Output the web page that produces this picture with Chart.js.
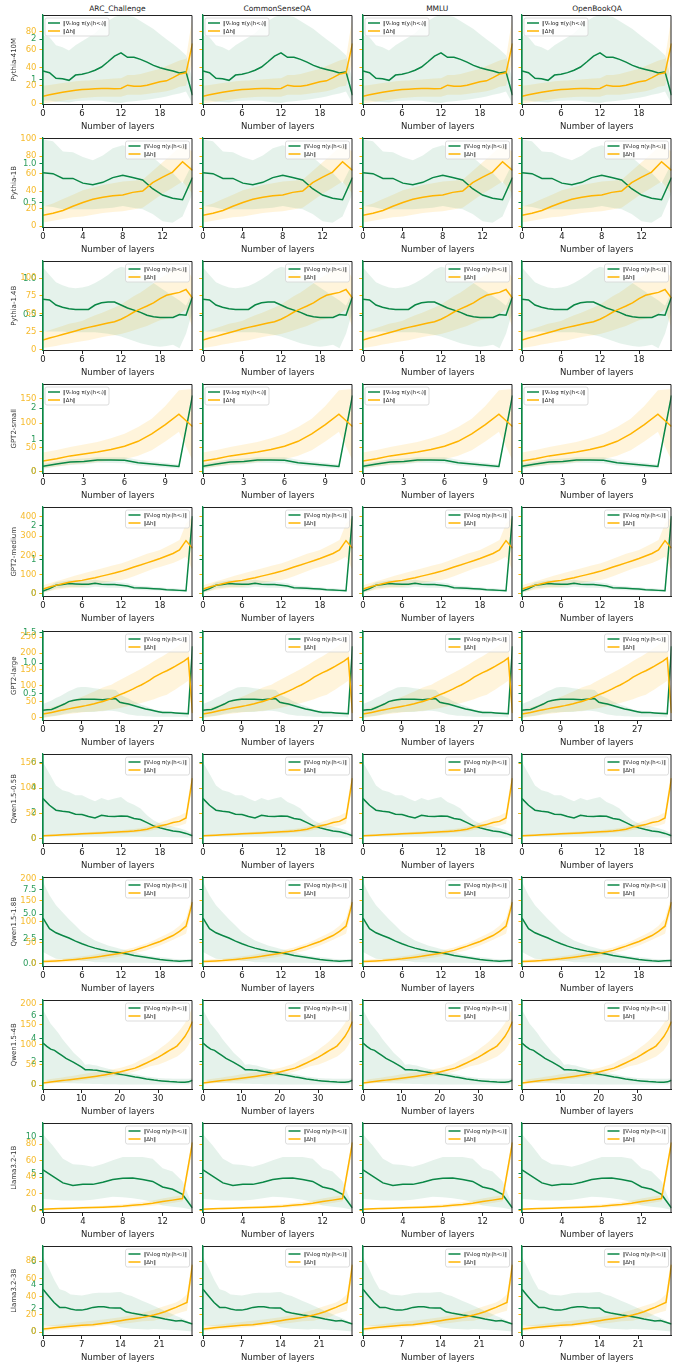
<!DOCTYPE html>
<html>
<head>
<meta charset="utf-8">
<script src="https://cdn.jsdelivr.net/npm/chart.js@4.4.0/dist/chart.umd.min.js"></script>
<style>
  body { margin: 0; background: #fff; width: 677px; height: 1367px; position: relative; overflow: hidden; font-family: "DejaVu Sans", sans-serif; }
  canvas { position: absolute; }
  .ttl { position: absolute; width: 150px; text-align: center; font-size: 7.5px; color: #222; }
</style>
</head>
<body>
<script>
// colonnes (tâches) et lignes (modèles)
const tasks = ['ARC_Challenge', 'CommonSenseQA', 'MMLU', 'OpenBookQA'];
const models = ['Pythia-410M', 'Pythia-1B', 'Pythia-1.4B', 'GPT2-small', 'GPT2-medium', 'GPT2-large',
  'Qwen1.5-0.5B', 'Qwen1.5-1.8B', 'Qwen1.5-4B', 'Llama3.2-1B', 'Llama3.2-3B'];
const xSteps = [6, 4, 6, 3, 6, 9, 6, 6, 10, 4, 7];

// Pythia-410M
const p410Grad = [1.21,1.17,1.03,1.02,0.98,1.11,1.13,1.17,1.23,1.31,1.44,1.58,1.66,1.55,1.55,1.50,1.43,1.35,1.29,1.25,1.21,1.16,1.19,0.61];
const p410GradHi = [2.1,2.05,1.85,1.8,1.72,1.85,1.95,2.05,2.15,2.3,2.45,2.55,2.6,2.58,2.55,2.45,2.35,2.25,2.12,2.0,1.88,1.75,1.6,1.0];
const p410GradLo = [0.48,0.48,0.45,0.44,0.43,0.46,0.47,0.48,0.48,0.47,0.45,0.43,0.42,0.45,0.46,0.48,0.5,0.52,0.55,0.58,0.62,0.65,0.7,0.4];
const p410Dh = [8.5,10,11.5,12.8,14,15,16,16.3,16.7,17,17,16.8,17,20.7,19.6,19.6,20.7,22.6,24.4,25.5,29,33,34.4,67];
const p410DhHi = [20,21,22,23,24,25,25.5,26,26.5,27,27.5,28,28.5,32,32,33,35,37,39,42,45,48,50,97];
const p410DhLo = [0.5,1.5,2.5,3.5,4.5,5.5,6.5,7,7.5,8,8,8,8,10,10,10,11,12,13,14,16,19,20,45];

// Pythia-1B
const p1bGrad = [0.88,0.87,0.81,0.81,0.75,0.73,0.76,0.82,0.85,0.82,0.79,0.68,0.60,0.56,0.54,0.82];
const p1bGradHi = [1.30,1.28,1.15,1.14,1.08,1.04,1.10,1.19,1.23,1.19,1.17,1.08,0.97,0.88,0.75,1.0];
const p1bGradLo = [0.46,0.45,0.42,0.42,0.42,0.42,0.43,0.44,0.46,0.44,0.42,0.36,0.27,0.25,0.33,0.62];
const p1bDh = [12.4,14.7,17.9,22.7,27,30.7,33,34.7,35.5,38.6,40.2,49.8,56,61.8,73.7,63.7];
const p1bDhHi = [22,26,31,36,41,44,47,49,51,52,53,63,73,83,93,85];
const p1bDhLo = [4,6,8,10,11,13,15,16,17,19,21,29,37,44,51,37];

// Pythia-1.4B
const p14bGrad = [0.72,0.71,0.64,0.61,0.59,0.58,0.58,0.58,0.64,0.67,0.68,0.68,0.64,0.60,0.57,0.54,0.50,0.48,0.47,0.47,0.47,0.51,0.50,0.75];
const p14bGradHi = [1.15,1.05,0.95,0.91,0.88,0.87,0.88,0.90,0.94,0.99,1.05,1.12,1.16,1.14,1.10,1.05,0.99,0.94,0.88,0.82,0.76,0.70,0.63,0.82];
const p14bGradLo = [0.28,0.28,0.28,0.28,0.27,0.27,0.27,0.27,0.27,0.26,0.25,0.23,0.21,0.18,0.15,0.12,0.1,0.08,0.07,0.08,0.1,0.05,0.25,0.55];
const p14bDh = [13.4,16,18.4,21,23.5,26,28.6,31,33,35,37,39,42.4,47,52.5,57,61,65.4,71.4,76,78,80,84,72];
const p14bDhHi = [24,27,30,33,36,38,40,44,48,51,55,59,63,69,75,80,86,93,100,105,111,113,114,100];
const p14bDhLo = [2,3.5,5,7,8.5,10,11.5,13,15,17,19,20,21.7,24,27,30,33,37,41,43,45,50,56,31];

// GPT2-small
const g2sGrad = [0.18,0.25,0.31,0.33,0.375,0.37,0.365,0.29,0.25,0.21,0.17,2.4];
const g2sGradHi = [0.26,0.33,0.4,0.42,0.46,0.46,0.46,0.38,0.33,0.28,0.23,2.45];
const g2sGradLo = [0.1,0.17,0.22,0.24,0.29,0.28,0.27,0.2,0.17,0.14,0.11,2.35];
const g2sDh = [22.4,27,32.7,36.7,40.8,46,52.4,62.6,77.6,96.6,118,93];
const g2sDhHi = [39.5,45,51,56,61,69,78,92,109,135,167,170];
const g2sDhLo = [8,11,15,17,20,23,26,33,44,62,82,24];

// GPT2-medium
const g2mGrad = [0.08,0.15,0.25,0.27,0.3,0.29,0.28,0.28,0.31,0.28,0.27,0.27,0.25,0.23,0.18,0.17,0.16,0.15,0.14,0.12,0.11,0.1,0.09,2.28];
const g2mGradHi = [0.14,0.23,0.34,0.37,0.4,0.4,0.39,0.39,0.41,0.38,0.37,0.36,0.33,0.31,0.25,0.23,0.22,0.2,0.19,0.17,0.16,0.15,0.13,2.3];
const g2mGradLo = [0.03,0.08,0.16,0.18,0.2,0.19,0.18,0.18,0.21,0.19,0.18,0.18,0.17,0.16,0.12,0.11,0.1,0.1,0.09,0.08,0.07,0.06,0.05,2.26];
const g2mDh = [24.6,35,44,52,60,65,70,77,84,92,100,108,117,128,140,150,161,172,184,197,210,228,277,237];
const g2mDhHi = [44,55,65,75,85,95,105,114,123,132,141,150,158,170,182,195,208,218,228,245,262,280,365,400];
const g2mDhLo = [9,15,21,26,30,33,35,42,48,55,62,67,70,80,92,105,118,130,140,150,160,175,193,123];

// GPT2-large
const g2lGrad = [0.23,0.235,0.24,0.27,0.3,0.33,0.37,0.39,0.4,0.41,0.41,0.41,0.41,0.405,0.4,0.41,0.415,0.42,0.36,0.345,0.33,0.31,0.29,0.27,0.25,0.235,0.22,0.205,0.19,0.19,0.19,0.185,0.18,0.175,0.17,1.28];
const g2lGradHi = [0.33,0.36,0.39,0.43,0.46,0.5,0.54,0.57,0.6,0.61,0.61,0.6,0.59,0.58,0.57,0.57,0.57,0.56,0.49,0.45,0.42,0.38,0.35,0.32,0.3,0.27,0.24,0.23,0.22,0.21,0.2,0.2,0.2,0.2,0.2,1.3];
const g2lGradLo = [0.11,0.12,0.13,0.14,0.15,0.17,0.18,0.19,0.19,0.2,0.2,0.2,0.2,0.21,0.21,0.22,0.22,0.21,0.2,0.18,0.16,0.15,0.14,0.14,0.13,0.13,0.12,0.12,0.12,0.12,0.12,0.12,0.12,0.12,0.11,1.26];
const g2lDh = [12,14.5,17,20,23,25.5,28,30.5,33,35.5,38,41,44,47.5,51,55.5,60,66,72,77,83,89,96,102,109,117,126,133,140,146,153,160,168,176,186,15];
const g2lDhHi = [26,29,33,37,42,47,52,56,60,65,70,76,82,88,94,99,103,110,117,124,131,138,145,152,160,168,176,184,191,199,208,217,226,235,243,60];
const g2lDhLo = [0,2,4,6,8,10,12,14,15.5,17,18,19,20,21,22,24,26,28,31,34,37,40,43,46,50,54,58,63,68,72,80,88,97,106,115,2];

// Qwen1.5-0.5B
const q05Grad = [3.16,2.63,2.24,2.16,2.1,1.92,1.9,1.74,1.63,1.84,1.76,1.74,1.79,1.76,1.58,1.5,1.26,1.0,0.84,0.71,0.6,0.53,0.4,0.21];
const q05GradHi = [6.05,5.13,4.2,3.82,3.68,3.42,3.42,3.16,2.95,3.2,3.03,3.16,3.29,2.9,2.68,2.37,1.84,1.45,1.18,1.05,0.92,0.8,0.66,0.4];
const q05GradLo = [0.15,0.14,0.14,0.13,0.13,0.13,0.13,0.13,0.13,0.13,0.13,0.13,0.13,0.13,0.13,0.13,0.12,0.12,0.12,0.11,0.1,0.09,0.08,0.05];
const q05Dh = [5.3,6,6.6,7.2,7.9,8.5,9.2,9.8,10.5,11.1,11.8,12.5,13.2,14,15,16.5,18.4,22.4,25,27.6,31.6,34,40.8,120];
const q05DhHi = [7,7.8,8.6,9.4,10.2,11,11.8,12.6,13.4,14.2,15,15.8,16.6,17.6,19,21,23.5,28,32,36,41,45,52,138];
const q05DhLo = [3.6,4.2,4.7,5.2,5.7,6.2,6.8,7.3,7.8,8.3,8.8,9.3,9.8,10.5,11.3,12.5,14,17,19,21,23.5,25.5,30,105];

// Qwen1.5-1.8B
const q18Grad = [4.6,3.54,3.13,2.86,2.6,2.29,2.02,1.78,1.58,1.41,1.28,1.18,1.08,0.98,0.84,0.74,0.64,0.54,0.44,0.37,0.3,0.27,0.3,0.34];
const q18GradHi = [8.25,6.9,5.9,5.2,4.5,3.85,3.2,2.75,2.36,2.1,1.85,1.67,1.5,1.35,1.18,1.0,0.84,0.74,0.67,0.6,0.5,0.45,0.45,0.44];
const q18GradLo = [1.18,0.84,0.5,0.45,0.4,0.35,0.3,0.25,0.17,0.15,0.14,0.13,0.12,0.11,0.1,0.1,0.1,0.09,0.09,0.08,0.08,0.07,0.07,0.07];
const q18Dh = [5.5,6.3,7.2,8,9.3,10.6,12,14,16,18,20.5,22.7,25,28.5,32,37,42,47.5,53,60,67,77,89,146];
const q18DhHi = [9.5,10.5,11.5,12.5,14,16,18,20,22.5,25,27.5,29.5,31.6,35,39,44,49,55.5,63,70,78,90,107,162];
const q18DhLo = [1.6,2.3,3,3.7,4.5,5.5,6.5,8,9.5,11,13.5,15.5,18,21,24.5,28.5,32.5,38,43.5,50,57,64,71,130];

// Qwen1.5-4B
const q4Grad = [3.63,3.34,3.11,3.0,2.77,2.54,2.31,2.14,1.97,1.77,1.57,1.34,1.34,1.31,1.29,1.23,1.17,1.11,1.06,1.0,0.94,0.89,0.83,0.77,0.71,0.66,0.6,0.54,0.49,0.44,0.4,0.37,0.34,0.31,0.29,0.27,0.26,0.26,0.29,0.43];
const q4GradHi = [6.5,5.9,5.3,4.9,4.5,4.0,3.6,3.2,2.8,2.5,2.2,1.77,1.8,1.75,1.69,1.6,1.5,1.42,1.34,1.27,1.2,1.13,1.06,1.0,0.94,0.88,0.8,0.76,0.7,0.66,0.63,0.6,0.58,0.57,0.56,0.55,0.55,0.55,0.56,0.6];
const q4GradLo = [0.49,0.4,0.26,0.22,0.2,0.19,0.18,0.17,0.16,0.15,0.14,0.13,0.12,0.11,0.1,0.1,0.09,0.09,0.08,0.08,0.06,0.06,0.06,0.06,0.06,0.06,0.06,0.06,0.06,0.06,0.06,0.06,0.06,0.06,0.06,0.06,0.06,0.06,0.06,0.2];
const q4Dh = [5.7,6.8,8,9.1,10.2,11.4,12.5,13.6,14.7,15.9,17,18.3,19.6,21,22.3,23.7,25.4,27.2,29,30.8,32.7,35,37.3,39.6,42,46,50.4,54.7,59.3,64,68.6,74,80,86,91,97,108,120,136,157];
const q4DhHi = [12.2,13.6,15,16.4,17.8,19.2,20.6,22,23.4,25,27,28.5,30,31.5,33,34.5,36,37.5,39,40.7,42.4,45,48,51,55,60,64.5,69,74,80,87,94,101,109,118,128,140,153,170,193];
const q4DhLo = [1.6,2.5,3.5,4.5,5.5,6.5,7.5,8.5,9.5,10.5,11.5,12.7,13.9,15,16.3,17.5,18.8,20.2,21.5,22.6,23.7,26,28.5,31,34,37,40,43,46.5,48.5,50.6,54,58,62,66.5,71,78,86,100,120];

// Llama3.2-1B
const l1Grad = [5.5,4.6,3.7,3.36,3.5,3.5,3.8,4.16,4.34,4.38,4.16,3.9,3.14,2.83,2.12,0.27];
const l1GradHi = [10.35,8.8,7.0,6.24,6.15,5.9,6.3,6.8,7.26,7.26,7.26,7.0,5.7,5.27,3.94,0.6];
const l1GradLo = [1.5,1.4,1.3,1.28,1.28,1.4,1.6,1.81,1.75,1.6,1.4,1.1,0.62,0.45,0.3,0.04];
const l1Dh = [0.8,1.4,2,2.3,2.7,3.1,3.5,4.1,4.7,5.7,6.7,8.2,10.2,12,14,82];
const l1DhHi = [2,2.6,3.3,3.7,4.2,4.7,5.3,6,7,8.3,9.7,11.5,14,16,18,90];
const l1DhLo = [0,0.4,0.9,1.1,1.4,1.7,2,2.4,2.8,3.4,4.2,5.3,6.8,8.5,10.5,70];

// Llama3.2-3B
const l3Grad = [3.63,3.07,2.51,2.1,2.1,1.96,1.87,1.87,1.96,2.1,2.15,2.15,2.07,2.04,2.04,1.73,1.62,1.54,1.45,1.4,1.31,1.23,1.12,1.03,0.95,0.98,0.84,0.7];
const l3GradHi = [6.4,5.45,4.47,3.63,3.49,3.2,3.15,3.1,3.2,3.3,3.35,3.35,3.35,3.38,3.4,3.2,3.07,2.85,2.65,2.45,2.23,2.02,1.82,1.6,1.4,1.2,0.98,0.56];
const l3GradLo = [0.56,0.53,0.5,0.5,0.5,0.55,0.6,0.62,0.62,0.63,0.65,0.68,0.7,0.6,0.42,0.35,0.3,0.27,0.25,0.23,0.28,0.25,0.22,0.2,0.18,0.15,0.1,0.06];
const l3Dh = [3.7,4.3,5,5.6,6.2,6.8,7.4,7.8,8.1,8.5,9.3,10.2,11,12,13,14,14.9,15.8,16.7,18,19.3,21,23,25.5,28,30.7,33.5,76];
const l3DhHi = [6.7,7.4,8.1,8.8,9.5,10.2,10.9,11.6,12.3,13,13.7,14.4,15.1,15.9,16.7,18,19.3,20.6,22,23.6,25.3,27.5,29.5,31.5,33.5,37,42.7,85.5];
const l3DhLo = [1.5,2,2.5,3,3.5,4,4.5,5,5.5,6,6.6,7.3,8,8.6,9.3,10,10.7,11.5,12.2,12.7,13,14.5,16,17.5,20.4,22.5,24.2,67];

// graduations des deux axes y
const gradTicks = [[1,2],[0.5,1],[0.5,1],[0,1,2],[0,1,2],[0.5,1,1.5],[0,2,4,6],[0,2.5,5,7.5],[0,2,4,6],[0,5,10],[0,2,4,6]];
const gradDecimals = [0,1,1,0,0,1,0,1,0,0,0];
const dhTicks = [[0,20,40,60,80],[0,20,40,60,80,100],[0,25,50,75,100],[0,50,100,150],[0,100,200,300,400],
  [0,50,100,150,200,250],[0,50,100,150],[0,50,100,150,200],[0,50,100,150,200],[0,20,40,60,80],[0,20,40,60,80]];
const gradRange = [[0.38,2.6],[0.19,1.32],[0.02,1.24],[-0.05,2.76],[-0.08,2.55],[0.06,1.53],[-0.4,6.7],[-0.27,8.75],[-0.37,7.34],[-0.35,11.9],[-0.28,7.3]];
const dhRange = [[-0.7,98.5],[-1.6,100.8],[-1.4,124],[-3.4,180],[-14,452],[-8,269],[-10,168],[-6,205],[-10.6,210],[-3,105.5],[-3.7,97]];
const legendRight = [false,true,true,false,true,true,true,true,true,true,true];

const rows = [
  [p410Grad, p410GradHi, p410GradLo, p410Dh, p410DhHi, p410DhLo],
  [p1bGrad, p1bGradHi, p1bGradLo, p1bDh, p1bDhHi, p1bDhLo],
  [p14bGrad, p14bGradHi, p14bGradLo, p14bDh, p14bDhHi, p14bDhLo],
  [g2sGrad, g2sGradHi, g2sGradLo, g2sDh, g2sDhHi, g2sDhLo],
  [g2mGrad, g2mGradHi, g2mGradLo, g2mDh, g2mDhHi, g2mDhLo],
  [g2lGrad, g2lGradHi, g2lGradLo, g2lDh, g2lDhHi, g2lDhLo],
  [q05Grad, q05GradHi, q05GradLo, q05Dh, q05DhHi, q05DhLo],
  [q18Grad, q18GradHi, q18GradLo, q18Dh, q18DhHi, q18DhLo],
  [q4Grad, q4GradHi, q4GradLo, q4Dh, q4DhHi, q4DhLo],
  [l1Grad, l1GradHi, l1GradLo, l1Dh, l1DhHi, l1DhLo],
  [l3Grad, l3GradHi, l3GradLo, l3Dh, l3DhHi, l3DhLo]
];

const GREEN = '#0a8746';
const ORANGE = '#ffb400';
const GREEN_TXT = '#2c9c5c';
const ORANGE_TXT = '#f6bb2e';
const GREEN_BAND = 'rgba(20,140,70,0.11)';
const ORANGE_BAND = 'rgba(255,185,30,0.16)';
const gradLabel = '‖∇ₕlog π(yᵢ|h<ᵢ)‖';
const dhLabel = '‖Δh‖';

// géométrie des panneaux
const colLeft = [42.7, 202.5, 362.5, 522.3];
const plotW = 149.5, plotH = 89.5;
const rowTop = r => 15 + 123.1 * r;

Chart.defaults.font.family = '"DejaVu Sans", sans-serif';

// l'axe orange partage la boîte de l'axe vert (libellés superposés, comme l'original)
const stickAxis = {
  id: 'stickAxis',
  afterLayout(chart) {
    const s = chart.scales.y2;
    s.left = chart.scales.y.left;
    s.right = chart.chartArea.left;
    s.width = s.right - s.left;
  }
};

// cadre noir + axe gauche vert
const frame = {
  id: 'frame',
  afterDatasetsDraw(chart) {
    const { ctx, chartArea: a } = chart;
    ctx.save();
    ctx.strokeStyle = '#222';
    ctx.lineWidth = 1;
    ctx.beginPath();
    ctx.moveTo(a.left, a.top + 0.5); ctx.lineTo(a.right - 0.5, a.top + 0.5); ctx.lineTo(a.right - 0.5, a.bottom);
    ctx.stroke();
    ctx.strokeStyle = GREEN;
    ctx.lineWidth = 1.2;
    ctx.beginPath(); ctx.moveTo(a.left, a.top); ctx.lineTo(a.left, a.bottom); ctx.stroke();
    ctx.restore();
  }
};

// petite légende dans la zone du graphique
const miniLegend = {
  id: 'miniLegend',
  afterDraw(chart, args, opts) {
    const { ctx, chartArea: a } = chart;
    const w = 64, h = 18;
    const x = opts.right ? a.right - w - 3 : a.left + 2;
    const y = a.top + 3;
    ctx.save();
    ctx.fillStyle = 'rgba(255,255,255,0.8)';
    ctx.strokeStyle = '#d4d4d4';
    ctx.lineWidth = 0.8;
    ctx.beginPath();
    ctx.roundRect(x, y, w, h, 2);
    ctx.fill(); ctx.stroke();
    [[GREEN, gradLabel], [ORANGE, dhLabel]].forEach(([col, txt], i) => {
      const yy = y + 5 + i * 8;
      ctx.strokeStyle = col; ctx.lineWidth = 1.5;
      ctx.beginPath(); ctx.moveTo(x + 3, yy); ctx.lineTo(x + 15, yy); ctx.stroke();
      ctx.fillStyle = '#222';
      ctx.font = '5.4px "DejaVu Sans"';
      ctx.textBaseline = 'middle';
      ctx.fillText(txt, x + 18, yy + 0.3);
    });
    ctx.restore();
  }
};

function bandSet(data, axis, color, fill) {
  return { data, yAxisID: axis, borderColor: 'transparent', borderWidth: 0, pointRadius: 0,
    backgroundColor: color, fill: fill, order: 5 };
}

function makePanel(r, c) {
  const cv = document.createElement('canvas');
  cv.width = 196; cv.height = 135;
  cv.style.left = (colLeft[c] - 43) + 'px';
  cv.style.top = (rowTop(r) - 15) + 'px';
  document.body.appendChild(cv);

  const [grad, gradHi, gradLo, dh, dhHi, dhLo] = rows[r];
  const n = grad.length;
  const labels = grad.map((_, i) => i);

  new Chart(cv.getContext('2d'), {
    type: 'line',
    data: {
      labels: labels,
      datasets: [
        { label: gradLabel, data: grad, yAxisID: 'y', borderColor: GREEN, borderWidth: 1.5, pointRadius: 0, fill: false, order: 1 },
        { label: dhLabel, data: dh, yAxisID: 'y2', borderColor: ORANGE, borderWidth: 1.5, pointRadius: 0, fill: false, order: 0 },
        bandSet(gradHi, 'y', GREEN_BAND, '+1'),
        bandSet(gradLo, 'y', GREEN_BAND, false),
        bandSet(dhHi, 'y2', ORANGE_BAND, '+1'),
        bandSet(dhLo, 'y2', ORANGE_BAND, false)
      ]
    },
    options: {
      responsive: false,
      animation: false,
      devicePixelRatio: 1,
      layout: { padding: { top: 15, right: 196 - 43 - plotW, bottom: 0, left: 0 } },
      plugins: { legend: { display: false }, tooltip: { enabled: false }, miniLegend: { right: legendRight[r] } },
      scales: {
        x: {
          type: 'linear', min: 0, max: n - 1,
          afterBuildTicks: s => {
            const t = [];
            for (let v = 0; v <= n - 1; v += xSteps[r]) t.push({ value: v });
            s.ticks = t;
          },
          ticks: { font: { size: 8.5 }, color: '#222', padding: 1, maxRotation: 0, autoSkip: false },
          grid: { drawOnChartArea: false, tickLength: 3.5, color: '#222' },
          border: { color: '#222', width: 1 },
          title: { display: true, text: 'Number of layers', font: { size: 8.5 }, color: '#222', padding: { top: 0, bottom: 3.4 } },
          afterFit: s => { s.height = 135 - 15 - plotH; }
        },
        y: {
          position: 'left', weight: 1,
          min: gradRange[r][0], max: gradRange[r][1],
          afterBuildTicks: s => { s.ticks = gradTicks[r].map(v => ({ value: v })); },
          ticks: { display: c === 0, color: GREEN_TXT, font: { size: 8.5 }, padding: 3,
            callback: v => v.toFixed(gradDecimals[r]) },
          grid: { drawOnChartArea: false, tickLength: 3.5, color: GREEN },
          border: { color: GREEN, width: 1.2 },
          title: { display: c === 0, text: models[r], font: { size: 7 }, color: '#333', padding: { top: 10, bottom: 0 } },
          afterFit: s => { s.width = 43; }
        },
        y2: {
          position: 'left', weight: 0,
          min: dhRange[r][0], max: dhRange[r][1],
          afterBuildTicks: s => { s.ticks = dhTicks[r].map(v => ({ value: v })); },
          ticks: { display: c === 0, color: ORANGE_TXT, font: { size: 8.5 }, padding: 3 },
          grid: { drawOnChartArea: false, tickLength: 3.5, color: ORANGE },
          border: { display: false },
          afterFit: s => { s.width = 0; }
        }
      }
    },
    plugins: [stickAxis, frame, miniLegend]
  });
}

// titres des colonnes
tasks.forEach((t, c) => {
  const d = document.createElement('div');
  d.className = 'ttl';
  d.textContent = t;
  d.style.left = (colLeft[c] + plotW / 2 - 75) + 'px';
  d.style.top = '4px';
  document.body.appendChild(d);
});

for (let r = 0; r < models.length; r++) {
  for (let c = 0; c < tasks.length; c++) makePanel(r, c);
}
</script>
</body>
</html>
